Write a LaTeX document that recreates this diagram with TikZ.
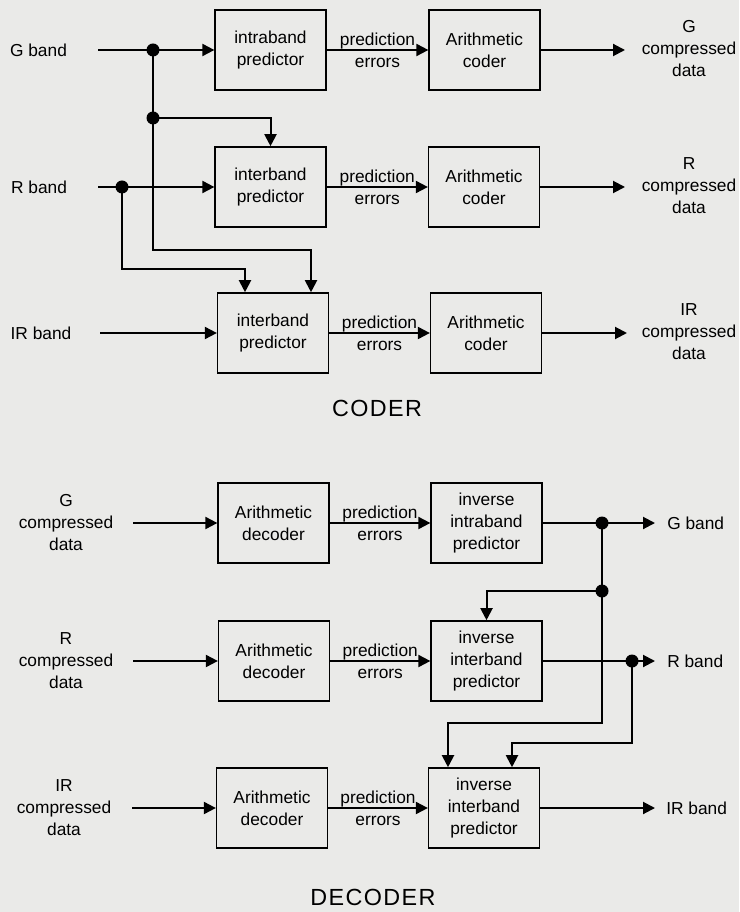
\documentclass[tikz,border=0pt]{standalone}
\usepackage{fontspec}
\setmainfont{Liberation Sans}
\newfontfamily\headfont[LetterSpace=6]{Liberation Sans}
\usetikzlibrary{arrows.meta,calc}

\definecolor{paper}{RGB}{234,234,232}

\tikzset{
  block/.style={draw, line width=1.2pt, minimum width=83pt, minimum height=60pt,
    inner sep=0pt, align=center, font=\fontsize{13}{16.5}\selectfont},
  lbl/.style={align=center, inner sep=0pt, font=\fontsize{13}{16.5}\selectfont},
  head/.style={inner sep=0pt, font=\headfont\fontsize{17.5}{20}\selectfont},
  flow/.style={line width=1.5pt, -{Triangle[length=9pt,width=9pt]}},
  wire/.style={line width=1.5pt},
}

\begin{document}
\begin{tikzpicture}[x=0.75pt, y=-0.75pt]

  % page
  \useasboundingbox (0,0) rectangle (739,912);
  \fill[paper] (0,0) rectangle (739,912);

  % coder blocks
  \node[block] (P1) at (270.5,50) {intraband\\predictor};
  \node[block] (P2) at (270.5,187) {interband\\predictor};
  \node[block] (P3) at (273,333) {interband\\predictor};
  \node[block] (C1) at (484.5,50) {Arithmetic\\coder};
  \node[block] (C2) at (484,187) {Arithmetic\\coder};
  \node[block] (C3) at (486,333) {Arithmetic\\coder};

  % coder inputs and outputs
  \node[lbl] (Gin) at (38.5,50) {G band};
  \node[lbl] (Rin) at (39,187) {R band};
  \node[lbl] (IRin) at (41,333) {IR band};
  \coordinate (Gs) at (98,50);
  \coordinate (Rs) at (98,187);
  \coordinate (IRs) at (100,333);
  \coordinate (Gj1) at (153,50);
  \coordinate (Gj2) at (153,118);
  \coordinate (Rj) at (122,187);
  \coordinate (Ge) at (625,50);
  \coordinate (Re) at (625,187);
  \coordinate (IRe) at (627,333);
  \node[lbl] (Gout) at (689,49) {G\\compressed\\data};
  \node[lbl] (Rout) at (689,186) {R\\compressed\\data};
  \node[lbl] (IRout) at (689,332) {IR\\compressed\\data};

  \draw[flow] (Gs) -- (P1);
  \draw[flow] (Rs) -- (P2);
  \draw[flow] (IRs) -- (P3);
  \draw[wire] (Gj1) -- (Gj2);
  \draw[flow] (Gj2) -| (P2.north);
  \draw[flow] (Gj2) -- (153,250) -| ($(P3.north)+(38,0)$);
  \draw[flow] (Rj) -- (122,269) -| ($(P3.north)+(-28,0)$);
  \draw[flow] (P1) -- node[lbl] {prediction\\errors} (C1);
  \draw[flow] (P2) -- node[lbl] {prediction\\errors} (C2);
  \draw[flow] (P3) -- node[lbl] {prediction\\errors} (C3);
  \draw[flow] (C1) -- (Ge);
  \draw[flow] (C2) -- (Re);
  \draw[flow] (C3) -- (IRe);

  \node[head] (coder) at (377,408) {CODER};

  % decoder blocks
  \node[block] (D1) at (273.5,523) {Arithmetic\\decoder};
  \node[block] (D2) at (274,661) {Arithmetic\\decoder};
  \node[block] (D3) at (272,808) {Arithmetic\\decoder};
  \node[block] (I1) at (486.5,523) {inverse\\intraband\\predictor};
  \node[block] (I2) at (486.5,661) {inverse\\interband\\predictor};
  \node[block] (I3) at (484,808) {inverse\\interband\\predictor};

  % decoder inputs and outputs
  \node[lbl] (Gcin) at (66,523) {G\\compressed\\data};
  \node[lbl] (Rcin) at (66,661) {R\\compressed\\data};
  \node[lbl] (IRcin) at (64,808) {IR\\compressed\\data};
  \coordinate (Gcs) at (133,523);
  \coordinate (Rcs) at (133,661);
  \coordinate (IRcs) at (132,808);
  \coordinate (Dj1) at (602,523);
  \coordinate (Dj2) at (602,591);
  \coordinate (Drj) at (632,661);
  \coordinate (Gbe) at (655,523);
  \coordinate (Rbe) at (655,661);
  \coordinate (IRbe) at (655,808);
  \node[lbl, anchor=west] (Gbout) at (667,523) {G band};
  \node[lbl, anchor=west] (Rbout) at (667,661) {R band};
  \node[lbl, anchor=west] (IRbout) at (666,808) {IR band};

  \draw[flow] (Gcs) -- (D1);
  \draw[flow] (Rcs) -- (D2);
  \draw[flow] (IRcs) -- (D3);
  \draw[flow] (D1) -- node[lbl] {prediction\\errors} (I1);
  \draw[flow] (D2) -- node[lbl] {prediction\\errors} (I2);
  \draw[flow] (D3) -- node[lbl] {prediction\\errors} (I3);
  \draw[flow] (I1) -- (Gbe);
  \draw[flow] (I2) -- (Rbe);
  \draw[flow] (I3) -- (IRbe);
  \draw[wire] (Dj1) -- (Dj2);
  \draw[flow] (Dj2) -| (I2.north);
  \draw[flow] (Dj2) -- (602,723) -| ($(I3.north)+(-36,0)$);
  \draw[flow] (Drj) -- (632,743) -| ($(I3.north)+(28,0)$);

  \node[head] (decoder) at (373,897) {DECODER};

  % junction dots
  \foreach \d in {Gj1,Gj2,Rj,Dj1,Dj2,Drj} {
    \fill (\d) circle (6.5);
  }

\end{tikzpicture}
\end{document}
